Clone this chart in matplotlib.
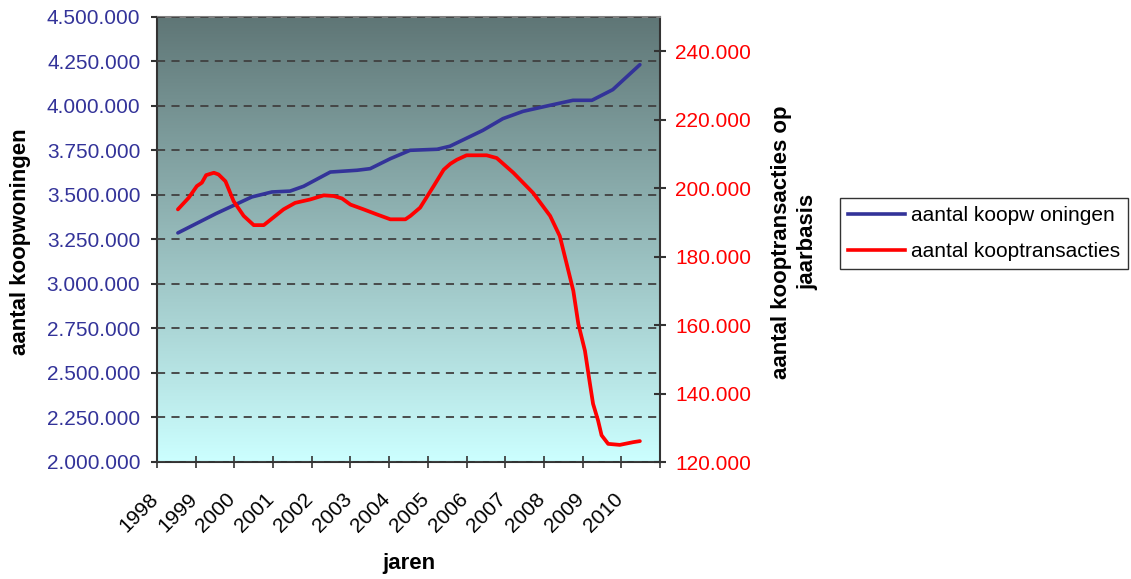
import matplotlib
matplotlib.use('Agg')
import matplotlib.pyplot as plt
import matplotlib.transforms as mtransforms
import numpy as np

plt.rcParams['font.family'] = ['Liberation Sans', 'DejaVu Sans']

# aantal koopwoningen (linker as)
woning_jaar = [1998.54, 1999.52, 2000.45, 2000.97, 2001.44, 2001.79, 2002.48, 2003.17,
               2003.51, 2004.03, 2004.54, 2005.24, 2005.57, 2006.42, 2006.94, 2007.46,
               2008.16, 2008.75, 2009.24, 2009.78, 2010.48]
woningen = [3287000, 3395000, 3489000, 3517000, 3522000, 3549000, 3629000, 3639000,
            3648000, 3704000, 3751000, 3757000, 3774000, 3863000, 3929000, 3970000,
            4004000, 4032000, 4032000, 4092000, 4232000]

# aantal kooptransacties op jaarbasis (rechter as)
trans_jaar = [1998.54, 1998.82, 1999.03, 1999.16, 1999.27, 1999.47, 1999.59, 1999.77,
              1999.98, 2000.24, 2000.50, 2000.76, 2000.97, 2001.27, 2001.57, 2001.96,
              2002.31, 2002.57, 2002.78, 2003.00, 2003.34, 2003.69, 2004.03, 2004.42,
              2004.55, 2004.80, 2005.15, 2005.41, 2005.58, 2005.75, 2006.00, 2006.52,
              2006.78, 2007.21, 2007.72, 2008.16, 2008.41, 2008.59, 2008.76, 2008.89,
              2009.06, 2009.19, 2009.27, 2009.40, 2009.49, 2009.66, 2009.96, 2010.31,
              2010.48]
transacties = [193800, 197200, 200600, 201600, 203800, 204500, 204000, 202000,
               196200, 191900, 189200, 189200, 191100, 193800, 195700, 196700,
               197900, 197700, 197000, 195200, 193800, 192300, 190900, 190900,
               191900, 194300, 200600, 205400, 207100, 208300, 209600, 209600,
               208800, 204500, 198600, 191900, 186000, 177800, 170000, 160300,
               152500, 142800, 137000, 132100, 127800, 125300, 125000, 125800,
               126100]

jaren = list(range(1998, 2011))
links_ticks = np.arange(2000000, 4500001, 250000)
rechts_ticks = np.arange(120000, 240001, 20000)

blauw = '#333399'
rood = '#ff0000'

def punten(v):
    return f"{v:,.0f}".replace(',', '.')

fig = plt.figure(figsize=(11.31, 5.79), dpi=100)
ax = fig.add_axes([157/1131, 1 - 462/579, 503/1131, 445/579])

# verloop achtergrond
top = np.array([95, 118, 118]) / 255
bot = np.array([204, 255, 255]) / 255
t = np.linspace(0, 1, 256)[:, None]
grad = (top * (1 - t) + bot * t)[:, None, :]
ax.imshow(grad, extent=[0, 1, 0, 1], transform=ax.transAxes, aspect='auto', zorder=0)

ax.plot(woning_jaar, woningen, color=blauw, lw=2.6, zorder=3, solid_capstyle='round')
ax.set_xlim(1998, 2011)
ax.set_ylim(2000000, 4500000)
ax.set_yticks(links_ticks)
ax.set_yticklabels([punten(v) for v in links_ticks], color=blauw, fontsize=15)
ax.set_xticks(list(range(1998, 2012)))
ax.set_xticklabels([str(j) for j in jaren] + [''], rotation=45, ha='right', fontsize=15)
ax.tick_params(axis='y', direction='out', length=4, width=1.5, pad=8, color='#333333')
ax.tick_params(axis='x', direction='inout', length=9, width=1.2, pad=15, color='#333333')
schuif = mtransforms.ScaledTranslation(5/100, 0, fig.dpi_scale_trans)
for lbl in ax.get_xticklabels():
    lbl.set_transform(lbl.get_transform() + schuif)
ax.yaxis.grid(True, linestyle=(0, (4.5, 3.5)), color='#404040', lw=1.3, zorder=1)
ax.set_axisbelow(False)
for s in ['left', 'bottom', 'right']:
    ax.spines[s].set_color('#333333')
    ax.spines[s].set_linewidth(1.5)
ax.spines['top'].set_color('#808080')
ax.spines['top'].set_linewidth(1.5)

ax2 = ax.twinx()
ax2.plot(trans_jaar, transacties, color=rood, lw=2.7, zorder=3, solid_capstyle='round')
ax2.set_ylim(120000, 250000)
ax2.set_yticks(rechts_ticks)
ax2.set_yticklabels([punten(v) for v in rechts_ticks], color=rood, fontsize=15)
ax2.tick_params(axis='y', direction='inout', length=8, width=1.5, pad=7, color='#333333')
for s in ax2.spines.values():
    s.set_visible(False)

fig.text(21/1131, 1 - 242/579, 'aantal koopwoningen', rotation=90, ha='center',
         va='center', fontsize=16, fontweight='bold')
fig.text(795/1131, 1 - 242/579, 'aantal kooptransacties op\njaarbasis', rotation=90,
         ha='center', va='center', fontsize=16, fontweight='bold', linespacing=1.35,
         multialignment='center')
fig.text(409/1131, 1 - 564/579, 'jaren', ha='center', va='center', fontsize=16,
         fontweight='bold')

h1, = ax.plot([], [], color=blauw, lw=2.6)
h2, = ax.plot([], [], color=rood, lw=2.6)
leg = fig.legend([h1, h2], ['aantal koopw oningen', 'aantal kooptransacties'],
                 loc='upper left', bbox_to_anchor=(840/1131, 1 - 198/579),
                 fontsize=15, frameon=True, fancybox=False, shadow=False,
                 borderpad=0.4, labelspacing=0.8, handlelength=2.7,
                 handletextpad=0.3, borderaxespad=0)
leg.get_frame().set_edgecolor('black')
leg.get_frame().set_linewidth(1.0)

fig.savefig('out.png', dpi=100)
